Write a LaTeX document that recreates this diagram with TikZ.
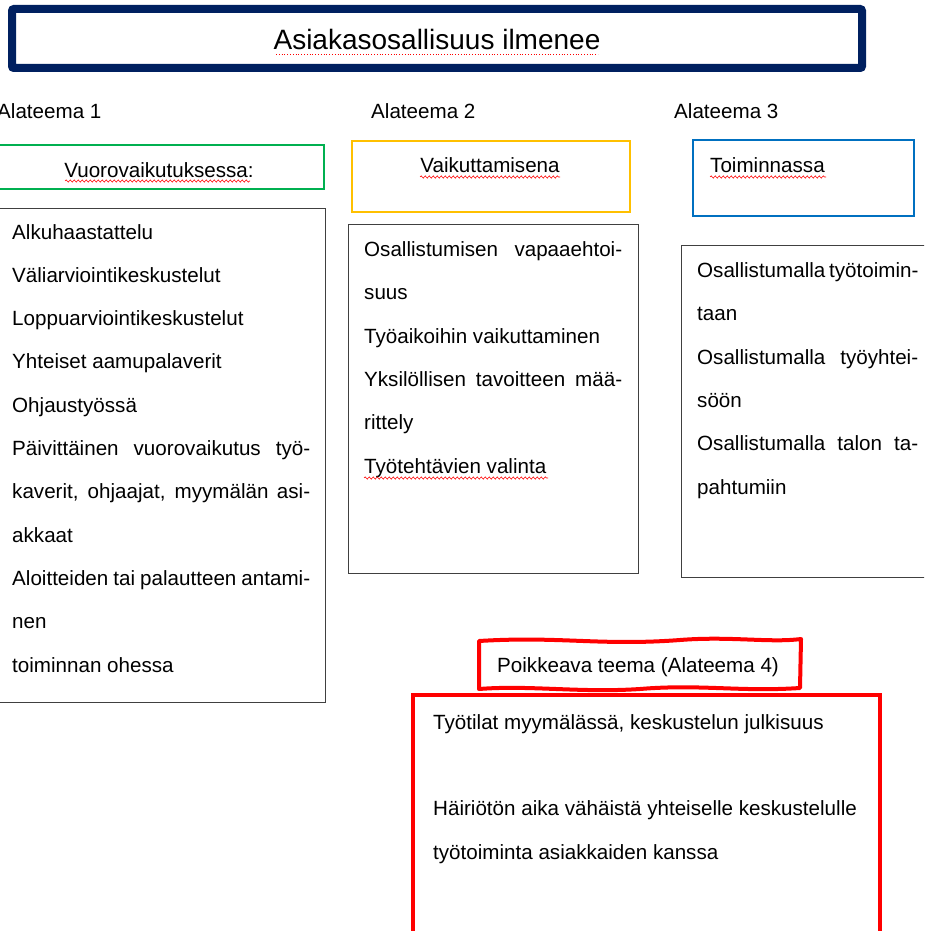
\documentclass[tikz,border=0pt]{standalone}
\usepackage{fontspec}
\setmainfont{Liberation Sans}
\usepackage{xcolor}
\usetikzlibrary{decorations.pathmorphing}
\definecolor{otsikkosin}{RGB}{0,32,96}
\definecolor{teemavihrea}{RGB}{0,176,80}
\definecolor{teemakelta}{RGB}{255,192,0}
\definecolor{teemasin}{RGB}{0,112,192}
\definecolor{poikkeavapun}{RGB}{255,0,0}
\definecolor{reunaharmaa}{RGB}{64,64,64}
\newcommand{\levita}[2]{\makebox[#1][s]{#2}}

\begin{document}
\begin{tikzpicture}[x=1pt, y=-1pt,
    teksti/.style={anchor=base west, align=left, inner sep=0pt, font=\fontsize{20.6}{43.3}\selectfont},
    alleviiva/.style={poikkeavapun, line width=0.6pt, decorate, decoration={snake, amplitude=1.1pt, segment length=4pt}}]
    \useasboundingbox (0,0) rectangle (924,931);
    \clip (0,0) rectangle (924,931);
    \fill[white] (0,0) rectangle (924,931);
    \draw[otsikkosin, line width=8pt, rounded corners=2pt] (12,9) rectangle (862,68);
    \node[anchor=base, inner sep=0pt, font=\fontsize{28}{33}\selectfont] (otsikko) at (437,50) {Asiakasosallisuus ilmenee};
    \draw[poikkeavapun, line width=0.8pt, dotted] (276,54)--(598,54);
    \node[teksti] (ala1) at (-3,119) {Alateema 1};
    \node[teksti] (ala2) at (371,119) {Alateema 2};
    \node[teksti] (ala3) at (674,119) {Alateema 3};
    \draw[teemavihrea, line width=2pt] (-5,145) rectangle (324,189);
    \node[teksti, anchor=base] (vuoro) at (159,177) {Vuorovaikutuksessa:};
    \draw[alleviiva] (65,181)--(250,181);
    \draw[teemakelta, line width=2pt] (352,141) rectangle (630,212);
    \node[teksti, anchor=base] (vaikut) at (490,172) {Vaikuttamisena};
    \draw[alleviiva] (420,177)--(560,177);
    \draw[teemasin, line width=2pt] (693,140) rectangle (914,216);
    \node[teksti] (toimin) at (710,172) {Toiminnassa};
    \draw[alleviiva] (710,177)--(826,177);
    % monirivisen tekstin ankkuri on viimeisen rivin perusviiva
    \draw[reunaharmaa, line width=1pt] (-5,208) rectangle (325,702);
    \node[teksti] (lista1) at (12,672) {Alkuhaastattelu\\ Väliarviointikeskustelut\\ Loppuarviointikeskustelut\\ Yhteiset aamupalaverit\\ Ohjaustyössä\\ \levita{298pt}{Päivittäinen vuorovaikutus työ-}\\ \levita{298pt}{kaverit, ohjaajat, myymälän asi-}\\ akkaat\\ \levita{298pt}{Aloitteiden tai palautteen antami-}\\ nen\\ toiminnan ohessa};
    \draw[reunaharmaa, line width=1pt] (348,224) rectangle (638,573);
    \node[teksti] (lista2) at (364,473) {\levita{258pt}{Osallistumisen vapaaehtoi-}\\ suus\\ Työaikoihin vaikuttaminen\\ \levita{258pt}{Yksilöllisen tavoitteen mää-}\\ rittely\\ Työtehtävien valinta};
    \draw[alleviiva] (364,478)--(548,478);
    \draw[reunaharmaa, line width=1pt] (681,245) rectangle (935,577);
    \node[teksti] (lista3) at (697,494) {\levita{221pt}{Osallistumalla työtoimin-}\\ taan\\ \levita{221pt}{Osallistumalla työyhtei-}\\ söön\\ \levita{221pt}{Osallistumalla talon ta-}\\ pahtumiin};
    \draw[poikkeavapun, line width=4pt, line join=round] (479,641) .. controls (560,636) and (600,646) .. (680,640) .. controls (730,636) and (770,643) .. (801,639) -- (800,688) .. controls (740,692) and (700,684) .. (640,689) .. controls (580,693) and (530,685) .. (479,689) -- cycle;
    \node[teksti] (ala4) at (497,672) {Poikkeava teema (Alateema 4)};
    \draw[poikkeavapun, line width=4pt] (413,695) rectangle (880,945);
    \node[teksti] (lista4) at (433,859) {Työtilat myymälässä, keskustelun julkisuus\\[43.3pt] Häiriötön aika vähäistä yhteiselle keskustelulle\\ työtoiminta asiakkaiden kanssa};
\end{tikzpicture}
\end{document}
